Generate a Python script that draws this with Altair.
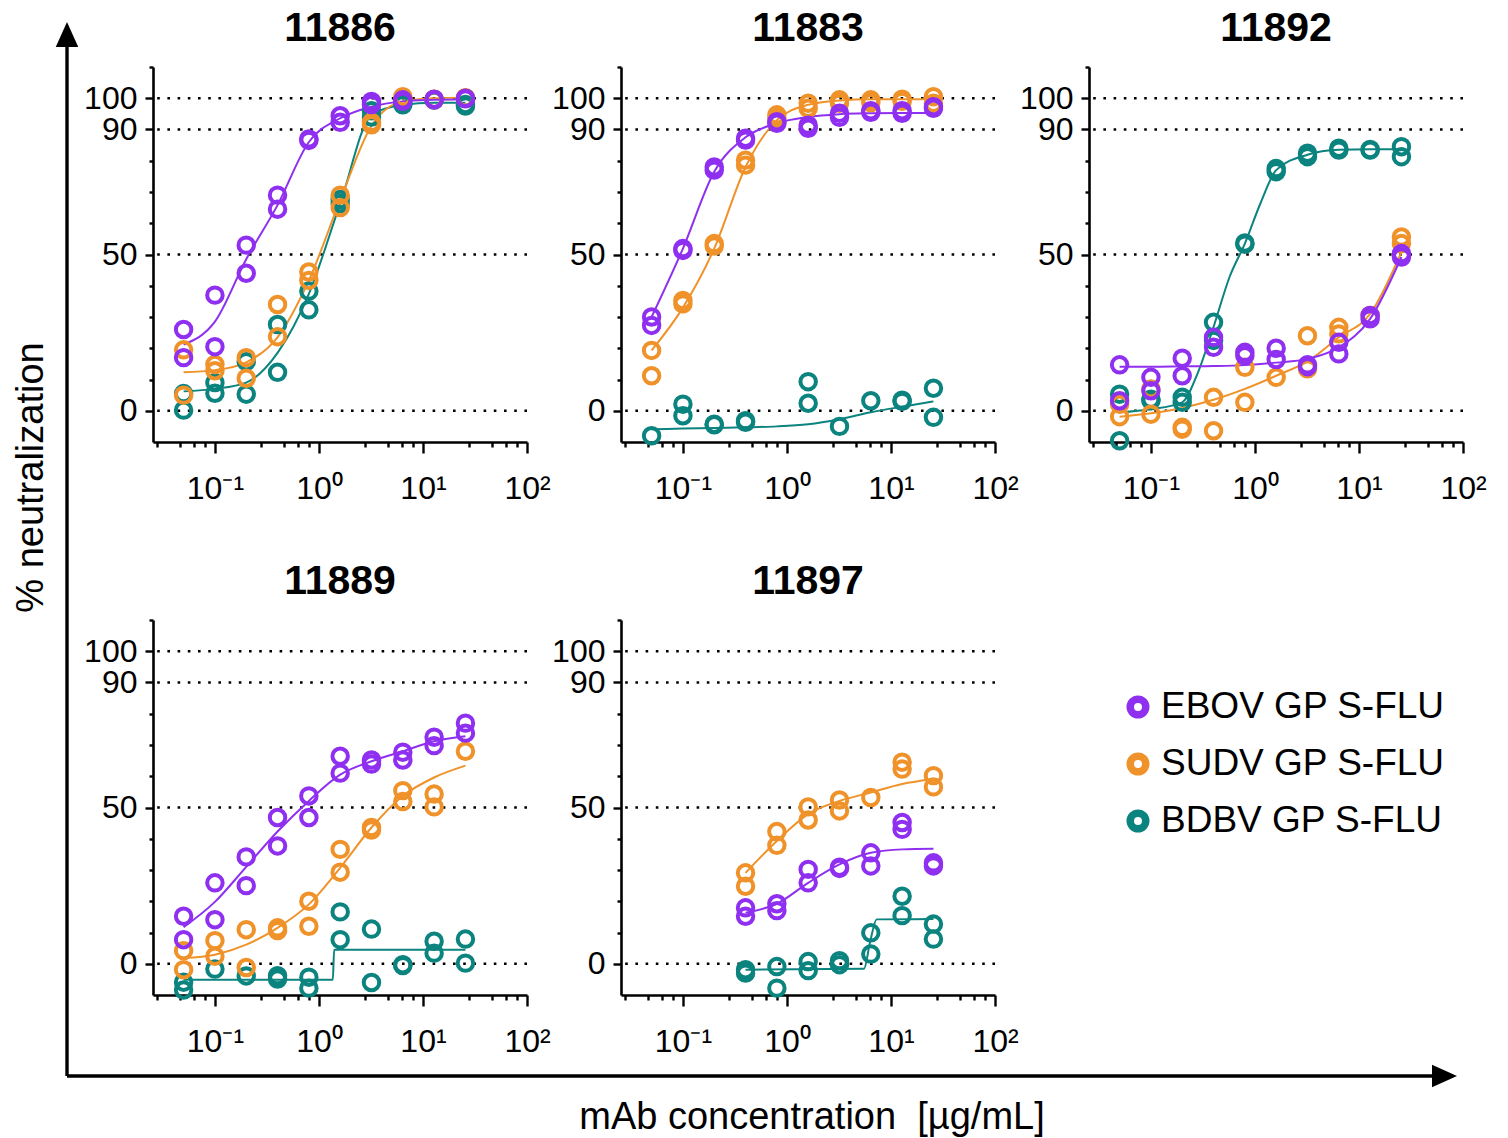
import altair as alt
import pandas as pd

# ---------------- data ----------------
SERIES = ["EBOV GP S-FLU", "SUDV GP S-FLU", "BDBV GP S-FLU"]
COLORS = ["#8f2ff0", "#f0922a", "#0b837e"]
PANELS = ["11886", "11883", "11892", "11889", "11897"]

CONC = [0.05, 0.1, 0.2, 0.4, 0.8, 1.6, 3.2, 6.4, 12.8, 25.6]
CONC_11897 = [0.4, 0.8, 1.6, 3.2, 6.4, 12.8, 25.6]

# replicate measurements (% neutralization), two replicates per concentration
P11886_EBOV = ([26, 37, 53, 69, 87, 94.4, 99, 99.5, 99.7, 100],
               [17, 20.5, 44, 64.5, 86.5, 92.3, 98, 99, 99.5, 99.8])
P11886_SUDV = ([19.5, 14.8, 17, 34, 44.4, 69, 92.3, 100.5, 99.7, 100.2],
               [5, 12.8, 10.4, 23.7, 41.7, 65, 91.5, 99.7, 99.5, 100])
P11886_BDBV = ([0.2, 9, 15.7, 27.6, 38.3, 67.6, 96, 98.4, 99.5, 98],
               [5.5, 5.6, 5.3, 12.3, 32.3, 66.3, 94, 97.9, 99.4, 97.5])

P11883_EBOV = ([30, 51.9, 78, 87.2, 92.5, 91.4, 95.2, 96, 96, 97.3],
               [27.3, 51.3, 77, 86.6, 92, 90.4, 93.9, 95.5, 95.2, 96.8])
P11883_SUDV = ([19.3, 35.3, 53.5, 80.2, 94.7, 98.4, 99.5, 99.5, 99.7, 100.5],
               [11.2, 34.2, 52.7, 78.6, 93.6, 96.8, 98.4, 98.6, 99, 98.4])
P11883_BDBV = ([-8, 2.1, -4.3, -3.2, None, 9.3, -5, 3.2, 3.4, 7.2],
               [None, -1.6, -4.5, -3.7, None, 2.4, None, None, 3, -2.1])

P11892_EBOV = ([14.7, 10.7, 16.8, 23.5, 18.7, 20, 14.7, 21.9, 30.5, 50.3],
               [3.2, 6.4, 11.2, 20.3, 17.6, 16.4, 14.1, 18.2, 29.4, 49.2])
P11892_SUDV = ([2.1, 7, -5.3, 4.3, 13.9, 10.7, 24, 26.7, 30.5, 55.6],
               [-1.9, -1.1, -5.9, -6.4, 2.7, None, 13.4, 24.6, None, 53.5])
P11892_BDBV = ([5.3, 3.7, 4.3, 28.3, 53.7, 77.5, 82.4, 84, 83.4, 84.5],
               [-9.6, 3.2, 2.7, 22.5, 53.3, 76.5, 81.3, 83.4, 83.6, 81.3])

P11889_EBOV = ([15.2, 25.9, 34.2, 46.8, 53.7, 66.4, 65.2, 67.7, 72.5, 77],
               [7.7, 14.1, 25, 37.7, 46.8, 61, 63.9, 65.2, 69.8, 73.8])
P11889_SUDV = ([4.2, 7.4, 10.9, 11.5, 20, 36.6, 43.6, 55.4, 54.3, 68],
               [-1.9, 2.4, -1.2, 10.6, 12, 29.3, 42.8, 51.9, 50.2, None])
P11889_BDBV = ([-5.9, -1.7, -3.9, -3.8, -4.3, 16.6, 11.1, -0.3, 7.2, 7.9],
               [-8.4, None, None, -4.9, -7.8, 7.7, -6, -0.6, 3.4, 0.2])

P11897_EBOV = ([17.9, 19.2, 30.2, 30.9, 35.5, 45.2, 32.3],
               [15.2, 17, 25.9, 30.5, 31.3, 43, 31.3])
P11897_SUDV = ([29.1, 42.3, 50.2, 52.4, 53.2, 64.5, 60.2],
               [24.8, 37.9, 46, 48.9, None, 62.3, 56.6])
P11897_BDBV = ([-1.9, -0.9, 0.7, 1, 9.9, 21.6, 12.7],
               [-3, -7.8, -2.2, -0.3, 3.1, 15.4, 7.9])

# fitted curves
C11886_EBOV = (CONC, [21.2, 28.5, 48.5, 65.8, 86, 93.6, 97.3, 99, 99.5, 99.7])
C11886_SUDV = (CONC, [12.3, 13, 15.5, 23.5, 41.7, 67.4, 91.2, 99, 100, 100.2])
C11886_BDBV = (CONC, [6.2, 7, 9, 18.5, 37.4, 66.3, 94.6, 97.9, 98.6, 98.6])

C11883_EBOV = (CONC, [30, 51.9, 76.5, 87.5, 92, 94, 94.9, 95.2, 95.3, 95.3])
C11883_SUDV = (CONC, [19.3, 33, 51.9, 78, 93, 97.9, 99.3, 99.7, 99.7, 99.7])
C11883_BDBV = (CONC, [-5.9, -5.7, -5.5, -5.3, -5, -4.3, -2.7, -0.5, 1.3, 3])

C11892_EBOV = (CONC, [14.1, 14.1, 14.2, 14.3, 14.6, 15.4, 16.6, 20.3, 29.4, 49.2])
C11892_SUDV = (CONC, [-1.9, -0.8, 0.9, 3.5, 7, 11.2, 15.8, 23.5, 31, 50.8])
C11892_BDBV = ([0.05, 0.1, 0.2, 0.28, 0.4, 0.57, 0.8, 1.13, 1.6, 3.2, 6.4, 12.8, 25.6],
               [-0.5, 0.5, 2.7, 11.8, 26.8, 42.8, 53.5, 66.4, 77, 81.9, 83.5, 83.7, 83.7])

C11889_EBOV = (CONC, [11.7, 19.8, 31, 42.3, 52.1, 60.5, 64.8, 68, 71.2, 72.8])
C11889_SUDV = (CONC, [1.8, 2.9, 6.1, 11.5, 19, 30.7, 43.6, 53.7, 59.6, 63.4])
C11889_BDBV = ([0.05, 1.36, 1.4, 25.6], [-5.1, -5.1, 4.5, 4.5])

C11897_EBOV = (CONC_11897, [16.3, 19.2, 25.9, 31.8, 35.5, 36.6, 36.8])
C11897_SUDV = (CONC_11897, [29.1, 39.3, 47.9, 52.1, 54.8, 57.5, 59.1])
C11897_BDBV = ([0.4, 5.5, 6.3, 7.3, 25.6], [-1.9, -1.6, 7, 14.2, 14.3])

REF_LINES = [0, 50, 90, 100]
X_MAJOR = [0.1, 1, 10, 100]
X_LABELS = ["10\u207b\u00b9", "10\u2070", "10\u00b9", "10\u00b2"]
X_MINOR = [0.028, 0.046, 0.063, 0.081, 0.28, 0.46, 0.63, 0.81,
           2.8, 4.6, 6.3, 8.1, 28, 46, 63, 81]
Y_MAJOR = [0, 50, 90, 100]
Y_MINOR = [10, 20, 30, 40, 60, 70, 80, 110]

X_TITLE = "mAb concentration\u00a0\u00a0[\u00b5g/mL]"
Y_TITLE = "% neutralization"

# ---------------- tables ----------------
point_sets = {
    "11886": (P11886_EBOV, P11886_SUDV, P11886_BDBV, CONC),
    "11883": (P11883_EBOV, P11883_SUDV, P11883_BDBV, CONC),
    "11892": (P11892_EBOV, P11892_SUDV, P11892_BDBV, CONC),
    "11889": (P11889_EBOV, P11889_SUDV, P11889_BDBV, CONC),
    "11897": (P11897_EBOV, P11897_SUDV, P11897_BDBV, CONC_11897),
}
curve_sets = {
    "11886": (C11886_EBOV, C11886_SUDV, C11886_BDBV),
    "11883": (C11883_EBOV, C11883_SUDV, C11883_BDBV),
    "11892": (C11892_EBOV, C11892_SUDV, C11892_BDBV),
    "11889": (C11889_EBOV, C11889_SUDV, C11889_BDBV),
    "11897": (C11897_EBOV, C11897_SUDV, C11897_BDBV),
}

pt_rows, cv_rows = [], []
for pid in PANELS:
    e, s, b, xs = point_sets[pid]
    # draw BDBV first, EBOV last (on top)
    for name, reps in ((SERIES[2], b), (SERIES[1], s), (SERIES[0], e)):
        for rep in reps:
            for x, v in zip(xs, rep):
                if v is not None:
                    pt_rows.append({"panel": pid, "series": name, "conc": x, "value": v})
    ce, cs, cb = curve_sets[pid]
    for name, (cx, cy) in ((SERIES[2], cb), (SERIES[1], cs), (SERIES[0], ce)):
        for x, v in zip(cx, cy):
            cv_rows.append({"panel": pid, "series": name, "conc": x, "value": v})

points_df = pd.DataFrame(pt_rows)
curves_df = pd.DataFrame(cv_rows)
ref_df = pd.DataFrame({"value": REF_LINES})

# ---------------- styling ----------------
FONT = "Liberation Sans"
W, H = 374, 375
X_DOMAIN = [0.0254, 100]
Y_DOMAIN = [-10, 110]

x_label_expr = " : ".join(
    f"datum.value == {v} ? '{t}'" for v, t in zip(X_MAJOR, X_LABELS)) + " : ''"
x_major_test = "indexof(" + str(X_MAJOR) + ", datum.value) >= 0"
y_major_test = "indexof(" + str(Y_MAJOR) + ", datum.value) >= 0"


def x_enc():
    return alt.X(
        "conc:Q",
        scale=alt.Scale(type="log", domain=X_DOMAIN, nice=False),
        axis=alt.Axis(
            values=X_MAJOR + X_MINOR, labelExpr=x_label_expr, title=None, grid=False,
            domainColor="black", domainWidth=2.6, tickColor="black", tickWidth=2.4,
            tickSize={"condition": {"test": x_major_test, "value": 11}, "value": 5},
            labelFont=FONT, labelFontSize=32, labelColor="black", labelPadding=20,
            labelBaseline="top", labelOverlap=False, labelFlush=False,
        ),
    )


def y_enc():
    return alt.Y(
        "value:Q",
        scale=alt.Scale(domain=Y_DOMAIN, nice=False, zero=False),
        axis=alt.Axis(
            values=sorted(Y_MAJOR + Y_MINOR),
            labelExpr=y_major_test + " ? datum.label : ''",
            title=None, grid=False,
            domainColor="black", domainWidth=2.6, tickColor="black", tickWidth=2.4,
            tickSize={"condition": {"test": y_major_test, "value": 8}, "value": 4},
            labelFont=FONT, labelFontSize=32, labelColor="black", labelPadding=8,
            labelOverlap=False, labelFlush=False,
        ),
    )


color_enc = alt.Color("series:N", scale=alt.Scale(domain=SERIES, range=COLORS), legend=None)


def panel(pid):
    rules = alt.Chart(ref_df).mark_rule(
        color="black", strokeWidth=2.6, strokeDash=[2.6, 7.6]
    ).encode(y=y_enc())
    lines = alt.Chart(curves_df[curves_df.panel == pid]).mark_line(
        strokeWidth=2, interpolate="monotone"
    ).encode(x=x_enc(), y=y_enc(), color=color_enc, detail="series:N")
    pts = alt.Chart(points_df[points_df.panel == pid]).mark_point(
        filled=False, size=240, strokeWidth=4, opacity=1
    ).encode(x=x_enc(), y=y_enc(), color=color_enc)
    return alt.layer(rules, lines, pts).properties(
        width=W, height=H,
        title=alt.TitleParams(pid, font=FONT, fontSize=41, fontWeight="bold",
                              color="black", anchor="middle", frame="group",
                              baseline="alphabetic", offset=-31),
    )


# legend panel + figure-level decorations (arrows and axis titles)
leg_df = pd.DataFrame({"series": SERIES})
leg_y = alt.Y("series:N", scale=alt.Scale(type="point", domain=SERIES, range=[87, 201], padding=0),
              axis=None)
leg_circles = alt.Chart(leg_df).mark_point(
    filled=False, size=240, strokeWidth=7.5, opacity=1
).encode(x=alt.value(49), y=leg_y, color=color_enc)
leg_text = alt.Chart(leg_df).mark_text(
    align="left", baseline="middle", font=FONT, fontSize=37, color="black"
).encode(x=alt.value(72), y=leg_y, text="series:N")

one = pd.DataFrame({"k": [0]})
v_line = alt.Chart(one).mark_rule(color="black", strokeWidth=3.4).encode(
    x=alt.value(-1022), y=alt.value(-580), y2=alt.value(456))
h_line = alt.Chart(one).mark_rule(color="black", strokeWidth=3.4).encode(
    x=alt.value(-1022), x2=alt.value(352), y=alt.value(456))
up_head = alt.Chart(one).mark_point(
    shape="M0,-1L0.9,1L-0.9,1Z", filled=True, size=625, color="black", opacity=1, strokeWidth=0
).encode(x=alt.value(-1022), y=alt.value(-585.5))
right_head = alt.Chart(one).mark_point(
    shape="M1,0L-1,-0.9L-1,0.9Z", filled=True, size=625, color="black", opacity=1, strokeWidth=0
).encode(x=alt.value(355.5), y=alt.value(456))
y_title = alt.Chart(pd.DataFrame({"t": [Y_TITLE]})).mark_text(
    angle=270, align="center", baseline="alphabetic", font=FONT, fontSize=38, color="black"
).encode(x=alt.value(-1046), y=alt.value(-142.5), text="t:N")
x_title = alt.Chart(pd.DataFrame({"t": [X_TITLE]})).mark_text(
    align="center", baseline="alphabetic", font=FONT, fontSize=38, color="black"
).encode(x=alt.value(-277), y=alt.value(509), text="t:N")

legend_panel = alt.layer(
    v_line, h_line, up_head, right_head, y_title, x_title, leg_circles, leg_text
).properties(width=W, height=H)

chart = alt.concat(
    *[panel(p) for p in PANELS], legend_panel,
    columns=3, spacing={"row": 178, "column": 94}, bounds="flush",
).properties(
    padding={"left": 13, "top": 8, "right": 5, "bottom": 0}
).configure_view(strokeWidth=0)

chart.save("out.html", embed_options={"renderer": "svg", "actions": False})
